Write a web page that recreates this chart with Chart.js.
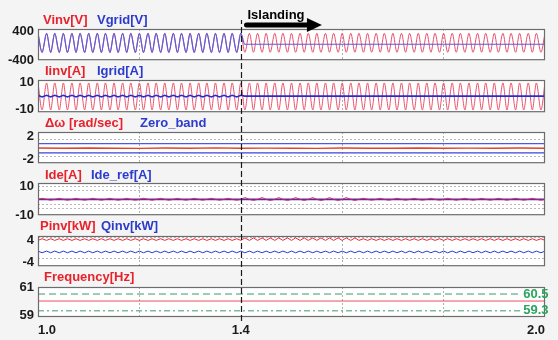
<!DOCTYPE html>
<html><head><meta charset="utf-8">
<script src="https://cdn.jsdelivr.net/npm/chart.js@4.4.1/dist/chart.umd.min.js"></script>
<style>
html,body{margin:0;padding:0;background:#f4f4f4;}
#wrap{position:relative;width:558px;height:340px;overflow:hidden;background:#f4f4f4;}
#wrap canvas{position:absolute;left:0;}
</style></head><body><div id="wrap"></div>
<script>
// ---------------- DATA ----------------
// sample instants at every positive / negative peak of the 60 Hz waveforms (s)
const waveTimes = [
 1.000,1.008,1.017,1.025,1.033,1.042,1.050,1.058,1.067,1.075,1.083,1.092,
 1.100,1.108,1.117,1.125,1.133,1.142,1.150,1.158,1.167,1.175,1.183,1.192,
 1.200,1.208,1.217,1.225,1.233,1.242,1.250,1.258,1.267,1.275,1.283,1.292,
 1.300,1.308,1.317,1.325,1.333,1.342,1.350,1.358,1.367,1.375,1.383,1.392,
 1.400,1.408,1.417,1.425,1.433,1.442,1.450,1.458,1.467,1.475,1.483,1.492,
 1.500,1.508,1.517,1.525,1.533,1.542,1.550,1.558,1.567,1.575,1.583,1.592,
 1.600,1.608,1.617,1.625,1.633,1.642,1.650,1.658,1.667,1.675,1.683,1.692,
 1.700,1.708,1.717,1.725,1.733,1.742,1.750,1.758,1.767,1.775,1.783,1.792,
 1.800,1.808,1.817,1.825,1.833,1.842,1.850,1.858,1.867,1.875,1.883,1.892,
 1.900,1.908,1.917,1.925,1.933,1.942,1.950,1.958,1.967,1.975,1.983,1.992,
 2.000];

const vinv = [
 350,-180,350,-180,350,-180,350,-180,350,-180,350,-180,
 350,-180,350,-180,350,-180,350,-180,350,-180,350,-180,
 350,-180,350,-180,350,-180,350,-180,350,-180,350,-180,
 350,-180,350,-180,350,-180,350,-180,350,-180,350,-180,
 350,-180,350,-180,350,-180,350,-180,350,-180,350,-180,
 350,-180,350,-180,350,-180,350,-180,350,-180,350,-180,
 350,-180,350,-180,350,-180,350,-180,350,-180,350,-180,
 350,-180,350,-180,350,-180,350,-180,350,-180,350,-180,
 350,-180,350,-180,350,-180,350,-180,350,-180,350,-180,
 350,-180,350,-180,350,-180,350,-180,350,-180,350,-180,
 350];
const vgrid = [
 350,-180,350,-180,350,-180,350,-180,350,-180,350,-180,
 350,-180,350,-180,350,-180,350,-180,350,-180,350,-180,
 350,-180,350,-180,350,-180,350,-180,350,-180,350,-180,
 350,-180,350,-180,350,-180,350,-180,350,-180,350,-180,
 350,45,45,45,45,45,45,45,45,45,45,45,
 45,45,45,45,45,45,45,45,45,45,45,45,
 45,45,45,45,45,45,45,45,45,45,45,45,
 45,45,45,45,45,45,45,45,45,45,45,45,
 45,45,45,45,45,45,45,45,45,45,45,45,
 45,45,45,45,45,45,45,45,45,45,45,45,
 45];
const iinv = [
 9.8,-10.3,9.8,-10.3,9.8,-10.3,9.8,-10.3,9.8,-10.3,9.8,-10.3,
 9.8,-10.3,9.8,-10.3,9.8,-10.3,9.8,-10.3,9.8,-10.3,9.8,-10.3,
 9.8,-10.3,9.8,-10.3,9.8,-10.3,9.8,-10.3,9.8,-10.3,9.8,-10.3,
 9.8,-10.3,9.8,-10.3,9.8,-10.3,9.8,-10.3,9.8,-10.3,9.8,-10.3,
 9.8,-10.3,9.8,-10.3,9.8,-10.3,9.8,-10.3,9.8,-10.3,9.8,-10.3,
 9.8,-10.3,9.8,-10.3,9.8,-10.3,9.8,-10.3,9.8,-10.3,9.8,-10.3,
 9.8,-10.3,9.8,-10.3,9.8,-10.3,9.8,-10.3,9.8,-10.3,9.8,-10.3,
 9.8,-10.3,9.8,-10.3,9.8,-10.3,9.8,-10.3,9.8,-10.3,9.8,-10.3,
 9.8,-10.3,9.8,-10.3,9.8,-10.3,9.8,-10.3,9.8,-10.3,9.8,-10.3,
 9.8,-10.3,9.8,-10.3,9.8,-10.3,9.8,-10.3,9.8,-10.3,9.8,-10.3,
 9.8];
const igrid = [
 0.6,-0.6,0.6,-0.6,0.6,-0.6,0.6,-0.6,0.6,-0.6,0.6,-0.6,
 0.6,-0.6,0.6,-0.6,0.6,-0.6,0.6,-0.6,0.6,-0.6,0.6,-0.6,
 0.6,-0.6,0.6,-0.6,0.6,-0.6,0.6,-0.6,0.6,-0.6,0.6,-0.6,
 0.6,-0.6,0.6,-0.6,0.6,-0.6,0.6,-0.6,0.6,-0.6,0.6,-0.6,
 0.6,0,0,0,0,0,0,0,0,0,0,0,
 0,0,0,0,0,0,0,0,0,0,0,0,
 0,0,0,0,0,0,0,0,0,0,0,0,
 0,0,0,0,0,0,0,0,0,0,0,0,
 0,0,0,0,0,0,0,0,0,0,0,0,
 0,0,0,0,0,0,0,0,0,0,0,0,
 0];

const deltaTimes = [1.00,1.05,1.10,1.15,1.20,1.25,1.30,1.35,1.40,1.45,1.50,1.55,1.60,1.65,1.70,1.75,1.80,1.85,1.90,1.95,2.00];
const deltaW = [-0.08,-0.12,-0.06,-0.10,-0.14,-0.08,-0.10,-0.05,-0.12,-0.09,-0.10,-0.13,-0.07,-0.10,-0.11,-0.06,-0.12,-0.09,-0.10,-0.08,-0.11];
const bandTimes = [1.0, 2.0];
const zeroBandUpper = [0.7, 0.7];
const zeroBandLower = [-0.9, -0.9];

const ide = [
 0.8,1.6,0.8,0.2,0.8,1.6,0.8,0.2,0.8,1.6,0.8,0.2,
 0.8,1.6,0.8,0.2,0.8,1.6,0.8,0.2,0.8,1.6,0.8,0.2,
 0.8,1.6,0.8,0.2,0.8,1.6,0.8,0.2,0.8,1.6,0.8,0.2,
 0.8,1.6,0.8,0.2,0.8,1.6,0.8,0.2,0.8,1.6,0.8,0.2,
 0.8,2.1,0.8,0.0,0.8,2.1,0.8,0.0,0.8,2.1,0.8,0.0,
 0.8,2.1,0.8,0.0,0.8,2.1,0.8,0.0,0.8,2.1,0.8,0.0,
 0.8,2.1,0.8,0.0,0.8,1.6,0.8,0.2,0.8,1.6,0.8,0.2,
 0.8,1.6,0.8,0.2,0.8,1.6,0.8,0.2,0.8,1.6,0.8,0.2,
 0.8,1.6,0.8,0.2,0.8,1.6,0.8,0.2,0.8,1.6,0.8,0.2,
 0.8,1.6,0.8,0.2,0.8,1.6,0.8,0.2,0.8,1.6,0.8,0.2,
 0.8];
const ideRef = [0.8, 0.8];

const pinv = [
 3.9,4.5,3.9,4.5,3.9,4.5,3.9,4.5,3.9,4.5,3.9,4.5,
 3.9,4.5,3.9,4.5,3.9,4.5,3.9,4.5,3.9,4.5,3.9,4.5,
 3.9,4.5,3.9,4.5,3.9,4.5,3.9,4.5,3.9,4.5,3.9,4.5,
 3.9,4.5,3.9,4.5,3.9,4.5,3.9,4.5,3.9,4.5,3.9,4.5,
 3.9,4.8,3.9,4.8,3.9,4.8,3.9,4.8,3.9,4.8,3.9,4.8,
 3.9,4.8,3.9,4.8,3.9,4.8,3.9,4.8,3.9,4.8,3.9,4.8,
 3.9,4.8,3.9,4.8,3.9,4.5,3.9,4.5,3.9,4.5,3.9,4.5,
 3.9,4.5,3.9,4.5,3.9,4.5,3.9,4.5,3.9,4.5,3.9,4.5,
 3.9,4.5,3.9,4.5,3.9,4.5,3.9,4.5,3.9,4.5,3.9,4.5,
 3.9,4.5,3.9,4.5,3.9,4.5,3.9,4.5,3.9,4.5,3.9,4.5,
 3.9];
const qinv = [
 0.0,-0.6,0.0,-0.6,0.0,-0.6,0.0,-0.6,0.0,-0.6,0.0,-0.6,
 0.0,-0.6,0.0,-0.6,0.0,-0.6,0.0,-0.6,0.0,-0.6,0.0,-0.6,
 0.0,-0.6,0.0,-0.6,0.0,-0.6,0.0,-0.6,0.0,-0.6,0.0,-0.6,
 0.0,-0.6,0.0,-0.6,0.0,-0.6,0.0,-0.6,0.0,-0.6,0.0,-0.6,
 0.0,-0.6,0.0,-0.6,0.0,-0.6,0.0,-0.6,0.0,-0.6,0.0,-0.6,
 0.0,-0.6,0.0,-0.6,0.0,-0.6,0.0,-0.6,0.0,-0.6,0.0,-0.6,
 0.0,-0.6,0.0,-0.6,0.0,-0.6,0.0,-0.6,0.0,-0.6,0.0,-0.6,
 0.0,-0.6,0.0,-0.6,0.0,-0.6,0.0,-0.6,0.0,-0.6,0.0,-0.6,
 0.0,-0.6,0.0,-0.6,0.0,-0.6,0.0,-0.6,0.0,-0.6,0.0,-0.6,
 0.0,-0.6,0.0,-0.6,0.0,-0.6,0.0,-0.6,0.0,-0.6,0.0,-0.6,
 0.0];

const freq = [60, 60];
const freqLimitTimes = [1.0, 1.955];
const freqUpper = [60.5, 60.5];
const freqLower = [59.3, 59.3];
const freqLimitLabels = ['60.5', '59.3'];

// names / tick labels
const p1Names = ['Vinv[V]', 'Vgrid[V]'];
const p2Names = ['Iinv[A]', 'Igrid[A]'];
const p3Names = ['\u0394\u03c9 [rad/sec]', 'Zero_band'];
const p4Names = ['Ide[A]', 'Ide_ref[A]'];
const p5Names = ['Pinv[kW]', 'Qinv[kW]'];
const p6Names = ['Frequency[Hz]'];

const p1Ticks = [400, -400];
const p2Ticks = [10, -10];
const p3Ticks = [2, -2];
const p4Ticks = [10, -10];
const p5Ticks = [4, -4];
const p6Ticks = [61, 59];
const p3Grid = [1.4, -1.55];
const p4Grid = [9.6, 6.9, -3, -5.6];
const p5Grid = [5, -2.75];

const xTickValues = [1.0, 1.2, 1.4, 1.6, 1.8, 2.0];
const xTickLabels = ['1.0', '', '1.4', '', '', '2.0'];
const xDottedTimes = [1.2, 1.6, 1.8];
const islandingTime = 1.4;
const arrowEndTime = 1.56;
const islandingText = 'Islanding';

// ---------------- STYLE / LAYOUT ----------------
const W = 558, plotLeft = 38, plotRight = 545;
const FONT = "'Liberation Sans', Arial, sans-serif";
const RED = '#e8222c', BLUE = '#2b3ccc', GREEN = '#2aa55e';
const WRED = '#e8506a', WBLUE = '#5a5ee0';

const pts = (ts, vs) => ts.map((t, i) => ({x: t, y: vs[i]}));
const line = (data, color, width, extra) => Object.assign({
  data, borderColor: color, borderWidth: width, pointRadius: 0, fill: false, tension: 0
}, extra || {});

const panels = [
  {top: 29, bottom: 62, padTop: 29, padBottom: 10, min: -400, max: 470, ticks: p1Ticks, grid: [],
   names: p1Names, nameColors: [RED, BLUE], nameX: [43, 97], nameDy: 9, dashFrom: 20,
   datasets: [
     line(pts(waveTimes, vgrid), WBLUE, 1.2, {cubicInterpolationMode: 'monotone', order: 0}),
     line(pts(waveTimes, vinv), WRED, 1, {cubicInterpolationMode: 'monotone', order: 1})]},
  {top: 80, bottom: 114, padTop: 20, padBottom: 10, min: -12, max: 12, ticks: p2Ticks, grid: [],
   names: p2Names, nameColors: [RED, BLUE], nameX: [45, 97], nameDy: 9, dashFrom: 62,
   datasets: [
     line(pts(waveTimes, igrid), '#1f2fd6', 1.6, {order: 0}),
     line(pts(waveTimes, iinv), WRED, 1, {cubicInterpolationMode: 'monotone', order: 1})]},
  {top: 132, bottom: 165, padTop: 20, padBottom: 10, min: -2.7, max: 2.7, ticks: p3Ticks, grid: p3Grid,
   names: p3Names, nameColors: [RED, BLUE], nameX: [45, 140], nameDy: 9, dashFrom: 114,
   datasets: [
     line(pts(deltaTimes, deltaW), '#e4432a', 1.4, {order: 0}),
     line(pts(bandTimes, zeroBandUpper), '#5058e0', 1.3, {order: 1}),
     line(pts(bandTimes, zeroBandLower), '#3a45d8', 1.3, {order: 1})]},
  {top: 183, bottom: 217, padTop: 20, padBottom: 10, min: -10, max: 12, ticks: p4Ticks, grid: p4Grid,
   names: p4Names, nameColors: [RED, BLUE], nameX: [45, 91], nameDy: 8, dashFrom: 165,
   datasets: [
     line(pts(waveTimes, ide), 'rgba(220,30,80,0.85)', 1, {order: 0}),
     line(pts(bandTimes, ideRef), '#5a2aa8', 1.6, {order: 1})]},
  {top: 236, bottom: 268, padTop: 20, padBottom: 10, min: -5.5, max: 5.5, ticks: p5Ticks, grid: p5Grid,
   names: p5Names, nameColors: [RED, BLUE], nameX: [40, 101], nameDy: 10, dashFrom: 217,
   datasets: [
     line(pts(waveTimes, pinv), '#e8283a', 1, {order: 0}),
     line(pts(waveTimes, qinv), '#2a3ad6', 1, {order: 1})]},
  {top: 287, bottom: 317, padTop: 20, padBottom: 23, min: 58.86, max: 61, ticks: p6Ticks, grid: [],
   names: p6Names, nameColors: [RED], nameX: [44], nameDy: 10, dashFrom: 268, dashTo: 322, showX: true,
   datasets: [
     line(pts(bandTimes, freq), '#e8505c', 1, {order: 0}),
     line(pts(freqLimitTimes, freqUpper), '#3d9a6c', 1, {order: 1, borderDash: [7, 4]}),
     line(pts(freqLimitTimes, freqLower), '#3d9a6c', 1, {order: 1, borderDash: [6, 3, 2, 3]})]}
];

const decoPlugin = {
  id: 'deco',
  beforeDraw(chart, args, opts) {
    const {ctx, chartArea: a} = chart;
    ctx.save();
    ctx.fillStyle = '#ffffff';
    ctx.fillRect(a.left, a.top, a.right - a.left, a.bottom - a.top);
    ctx.restore();
  },
  afterDraw(chart, args, opts) {
    const {ctx, chartArea: a, scales} = chart;
    const p = opts.panel;
    ctx.save();
    // frame
    ctx.strokeStyle = '#6c6c6c';
    ctx.lineWidth = 1.2;
    ctx.strokeRect(a.left + 0.5, a.top + 0.5, a.right - a.left - 1, a.bottom - a.top - 1);
    // islanding dashed line
    const xi = Math.round(scales.x.getPixelForValue(islandingTime)) + 0.5;
    const y0 = p.dashFrom - p.canvasTop;
    const y1 = (p.dashTo || p.bottom) - p.canvasTop;
    ctx.strokeStyle = '#1a1a1a';
    ctx.lineWidth = 1.2;
    ctx.setLineDash([6, 3]);
    ctx.lineDashOffset = p.dashFrom;
    ctx.beginPath(); ctx.moveTo(xi, y0); ctx.lineTo(xi, y1); ctx.stroke();
    ctx.setLineDash([]);
    // series names
    ctx.font = 'bold 13px ' + FONT;
    ctx.textBaseline = 'middle';
    ctx.textAlign = 'left';
    p.names.forEach((n, i) => {
      ctx.fillStyle = p.nameColors[i];
      ctx.fillText(n, p.nameX[i], a.top - p.nameDy);
    });
    if (p.showX) {
      // limit labels
      ctx.fillStyle = GREEN;
      ctx.font = 'bold 13px ' + FONT;
      const lx = scales.x.getPixelForValue(freqLimitTimes[1]) + 1;
      ctx.fillText(freqLimitLabels[0], lx, scales.y.getPixelForValue(freqUpper[0]));
      ctx.fillText(freqLimitLabels[1], lx, scales.y.getPixelForValue(freqLower[0]));
    }
    if (p.dashFrom === 20) {
      // Islanding annotation
      const xe = scales.x.getPixelForValue(arrowEndTime);
      ctx.fillStyle = '#000';
      ctx.font = 'bold 13px ' + FONT;
      ctx.textBaseline = 'alphabetic';
      ctx.fillText(islandingText, xi + 6, 18.5);
      ctx.strokeStyle = '#000';
      ctx.lineWidth = 5;
      ctx.lineCap = 'round';
      ctx.beginPath(); ctx.moveTo(xi + 5, 25); ctx.lineTo(xe - 12, 25); ctx.stroke();
      ctx.beginPath(); ctx.moveTo(xe - 15, 18); ctx.lineTo(xe, 25); ctx.lineTo(xe - 15, 32); ctx.closePath(); ctx.fill();
    }
    ctx.restore();
  }
};

const wrap = document.getElementById('wrap');
panels.forEach(p => {
  p.canvasTop = p.top - p.padTop;
  const h = p.bottom + p.padBottom - p.canvasTop;
  const cv = document.createElement('canvas');
  cv.width = W; cv.height = h;
  cv.style.top = p.canvasTop + 'px';
  cv.style.width = W + 'px'; cv.style.height = h + 'px';
  wrap.appendChild(cv);
  new Chart(cv, {
    type: 'line',
    data: {datasets: p.datasets},
    options: {
      responsive: false, animation: false, devicePixelRatio: 1,
      layout: {padding: {left: 0, right: W - plotRight, top: p.padTop, bottom: p.showX ? 0 : p.padBottom}},
      plugins: {legend: {display: false}, tooltip: {enabled: false}, deco: {panel: p}},
      scales: {
        x: {
          type: 'linear', min: 1.0, max: 2.0,
          afterFit(s) { s.height = p.showX ? p.padBottom : 0; },
          afterBuildTicks(s) { s.ticks = xTickValues.map(v => ({value: v})); },
          ticks: {
            display: !!p.showX, autoSkip: false, maxRotation: 0, align: 'inner', padding: 6,
            color: '#1a1a1a', font: {family: FONT, size: 13, weight: 'bold'},
            callback: (v) => { const i = xTickValues.findIndex(t => Math.abs(t - v) < 1e-9); return i >= 0 ? xTickLabels[i] : ''; }
          },
          grid: {
            drawTicks: false, lineWidth: 1,
            color: (c) => (c.tick && xDottedTimes.some(t => Math.abs(t - c.tick.value) < 1e-9)) ? '#b0b0b0' : 'rgba(0,0,0,0)'
          },
          border: {display: false, dash: [2, 2]}
        },
        y: {
          type: 'linear', min: p.min, max: p.max,
          afterFit(s) { s.width = plotLeft; },
          afterBuildTicks(s) { s.ticks = p.ticks.concat(p.grid).map(v => ({value: v})); },
          ticks: {
            autoSkip: false, padding: 4, color: '#1a1a1a', font: {family: FONT, size: 13, weight: 'bold'},
            callback: (v) => p.ticks.includes(v) ? String(v) : ''
          },
          grid: {
            drawTicks: false, lineWidth: 1,
            color: (c) => (c.tick && p.grid.includes(c.tick.value)) ? '#b8b8b8' : 'rgba(0,0,0,0)'
          },
          border: {display: false, dash: [2, 2]}
        }
      }
    },
    plugins: [decoPlugin]
  });
});
</script>
</body></html>
